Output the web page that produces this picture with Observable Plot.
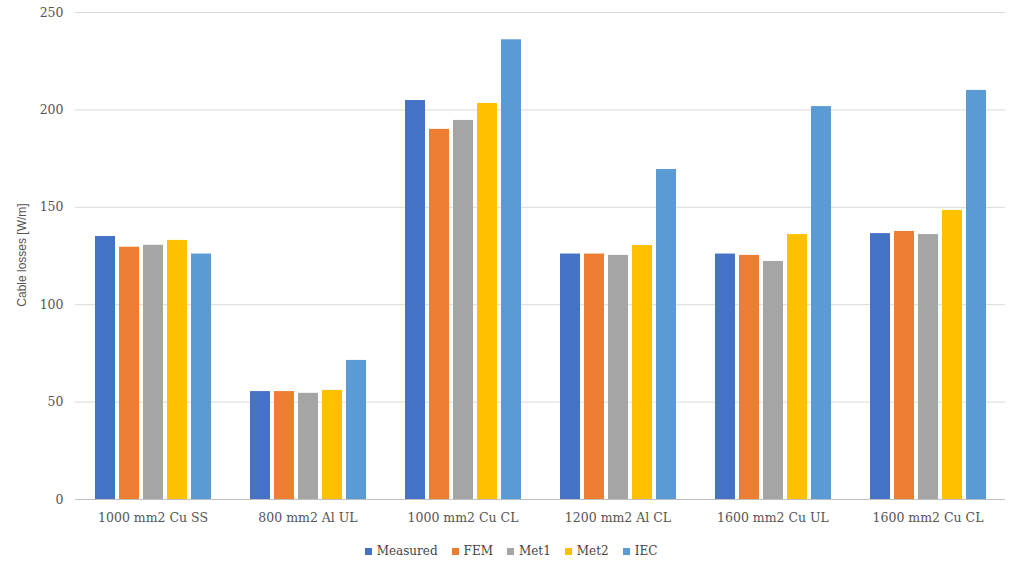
<!DOCTYPE html>
<html><head><meta charset="utf-8">
<script src="https://cdn.jsdelivr.net/npm/d3@7"></script>
<script src="https://cdn.jsdelivr.net/npm/@observablehq/plot@0.6"></script>
<style>body{margin:0;background:#fff}#c{position:relative}
#yl{position:absolute;left:22px;top:255px;transform:translate(-50%,-50%) rotate(-90deg);font:12px "Liberation Sans";color:#555;white-space:nowrap}
#leg{display:flex;justify-content:center;gap:14px;font:12px "DejaVu Serif";color:#444;margin-top:14px}
#leg span{display:flex;align-items:center}#leg i{width:7px;height:7px;display:inline-block;margin-right:5px}
</style></head><body><div id="c"><div id="yl">Cable losses [W/m]</div></div><div id="leg"></div>
<script>
const groups=["1000 mm2 Cu SS","800 mm2 Al UL","1000 mm2 Cu CL","1200 mm2 Al CL","1600 mm2 Cu UL","1600 mm2 Cu CL"];
const series=["Measured","FEM","Met1","Met2","IEC"];
const colors=["#4472C4","#ED7D31","#A5A5A5","#FFC000","#5B9BD5"];
const Measured=[135,55.4,204.8,126,126,136.5];
const FEM=[129.5,55.4,190,126,125.3,137.6];
const Met1=[130.5,54.5,194.6,125.3,122.2,136];
const Met2=[133,56,203.3,130.4,136,148.4];
const IEC=[126,71.4,236,169.4,201.7,210];
const vals={Measured,FEM,Met1,Met2,IEC};
const data=[];groups.forEach((g,i)=>series.forEach(s=>data.push({g,s,v:vals[s][i]})));
const p=Plot.plot({width:1022,height:530,marginTop:12,marginBottom:31,marginLeft:75,marginRight:17,
style:{fontFamily:"DejaVu Serif",fontSize:"11.5px",color:"#555"},
fx:{domain:groups,padding:0,label:null,tickSize:0,axis:null},
x:{domain:series,paddingInner:0.17,paddingOuter:0.75,axis:null},
y:{domain:[0,250],ticks:[0,50,100,150,200,250],label:null,tickSize:0},
color:{domain:series,range:colors},
marks:[
Plot.ruleY([50,100,150,200,250],{stroke:"#d9d9d9"}),
Plot.ruleY([0],{stroke:"#bfbfbf"}),
Plot.barY(data,{fx:"g",x:"s",y:"v",fill:"s"}),
Plot.axisFx({anchor:"bottom",tickSize:0,label:null,fontSize:12.5,tickPadding:14}),
Plot.axisY({ticks:[0,50,100,150,200,250],tickSize:0,label:null,fontSize:12.5,tickPadding:12})
]});
document.getElementById("c").append(p);
document.getElementById("leg").innerHTML=series.map((s,i)=>`<span><i style="background:${colors[i]}"></i>${s}</span>`).join("");
</script></body></html>
